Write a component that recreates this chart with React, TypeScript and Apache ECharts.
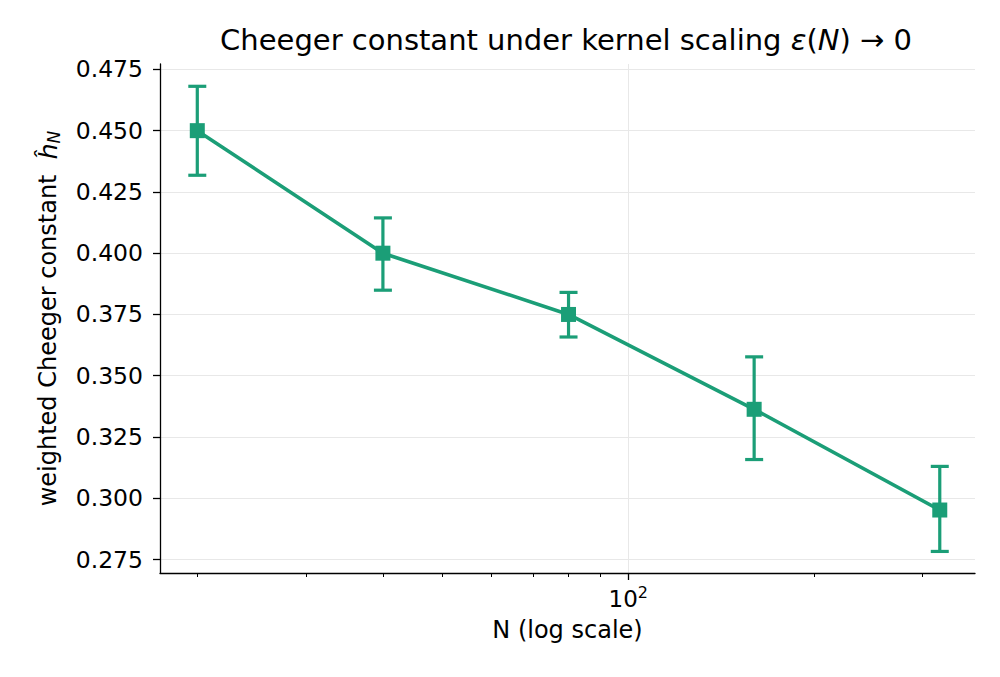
import React, { useEffect, useRef } from "react";
import * as echarts from "echarts";

// ---- data ----
const nValues = [20, 40, 80, 160, 320];
const cheeger = [0.45, 0.4, 0.375, 0.3363, 0.2952];
const errLow = [0.4318, 0.3849, 0.3658, 0.3158, 0.2783];
const errHigh = [0.4681, 0.4144, 0.384, 0.3577, 0.313];
const yTicks = [0.275, 0.3, 0.325, 0.35, 0.375, 0.4, 0.425, 0.45, 0.475];
const xMajorTicks = [100];
const xMinorTicks = [20, 30, 40, 50, 60, 70, 80, 90, 200, 300];

const COLOR = "#1b9e77";
const FONT = "DejaVu Sans";
const GRID_COLOR = "#e8e8e8";

export default function App() {
  const ref = useRef<HTMLDivElement>(null);

  useEffect(() => {
    document.body.style.margin = "0";
    if (!ref.current) return;
    const chart = echarts.init(ref.current, undefined, { renderer: "svg" });

    const xMin = 17.4;
    const xMax = 365;

    const option: any = {
      animation: false,
      backgroundColor: "#ffffff",
      grid: {
        left: 160,
        right: 25,
        top: 64,
        bottom: 104,
        containLabel: false,
        outerBoundsMode: "none",
      },
      graphic: [
        {
          type: "text",
          x: 566,
          y: 40,
          style: {
            text: "{r|Cheeger constant under kernel scaling }{i|ε}{r|(}{i|N}{r|) → 0}",
            align: "center",
            verticalAlign: "middle",
            fill: "#000",
            font: `29px '${FONT}'`,
            rich: {
              r: { fontSize: 29, fontFamily: FONT, fill: "#000" },
              i: { fontSize: 29, fontFamily: FONT, fontStyle: "italic", fill: "#000" },
            },
          },
        },
      ],
      xAxis: [
        {
          type: "log",
          logBase: 10,
          min: xMin,
          max: xMax,
          name: "N (log scale)",
          nameLocation: "middle",
          nameGap: 45,
          nameTextStyle: { fontFamily: FONT, fontSize: 24, color: "#000" },
          axisLine: { show: true, lineStyle: { color: "#000", width: 1.3 } },
          axisTick: {
            show: true,
            length: 7,
            customValues: xMajorTicks,
            lineStyle: { color: "#000", width: 1.3 },
          },
          minorTick: { show: false },
          axisLabel: {
            show: true,
            customValues: xMajorTicks,
            margin: 11,
            formatter: (v: number) => "{b|10}{s|" + Math.round(Math.log10(v)) + "}",
            rich: {
              b: { fontFamily: FONT, fontSize: 23, color: "#000", lineHeight: 26, verticalAlign: "bottom" },
              s: { fontFamily: FONT, fontSize: 16, color: "#000", lineHeight: 26, verticalAlign: "top" },
            },
          },
          splitLine: { show: true, lineStyle: { color: GRID_COLOR, width: 1 } },
        },
        {
          type: "log",
          logBase: 10,
          min: xMin,
          max: xMax,
          position: "bottom",
          axisLine: { show: false },
          axisTick: {
            show: true,
            length: 4,
            customValues: xMinorTicks,
            lineStyle: { color: "#000", width: 1 },
          },
          axisLabel: { show: false },
          splitLine: { show: false },
        },
      ],
      yAxis: {
        type: "value",
        min: 0.2695,
        max: 0.4772,
        name: "{t|weighted Cheeger constant  }{h|ĥ}{s|N}",
        nameLocation: "middle",
        nameGap: 98,
        nameTextStyle: {
          fontFamily: FONT,
          fontSize: 24,
          color: "#000",
          rich: {
            t: { fontFamily: FONT, fontSize: 24, color: "#000" },
            h: { fontFamily: FONT, fontSize: 25, fontStyle: "italic", color: "#000" },
            s: { fontFamily: FONT, fontSize: 17, fontStyle: "italic", color: "#000", padding: [11, 0, 0, 0] },
          },
        },
        axisLine: { show: true, lineStyle: { color: "#000", width: 1.3 } },
        axisTick: {
          show: true,
          length: 7,
          customValues: yTicks,
          lineStyle: { color: "#000", width: 1.3 },
        },
        axisLabel: {
          customValues: yTicks,
          margin: 17,
          fontFamily: FONT,
          fontSize: 23.5,
          color: "#000",
          formatter: (v: number) => v.toFixed(3),
        },
        splitLine: { show: true, lineStyle: { color: GRID_COLOR, width: 1 } },
      },
      series: [
        {
          type: "custom",
          name: "err",
          xAxisIndex: 0,
          yAxisIndex: 0,
          z: 1,
          data: nValues.map((n, i) => [n, errLow[i], errHigh[i]]),
          encode: { x: 0, y: [1, 2] },
          renderItem: (params: any, api: any) => {
            const x = api.value(0);
            const lo = api.coord([x, api.value(1)]);
            const hi = api.coord([x, api.value(2)]);
            const hw = 9;
            const style = { stroke: COLOR, lineWidth: 3.2 };
            return {
              type: "group",
              children: [
                { type: "line", shape: { x1: lo[0], y1: lo[1], x2: hi[0], y2: hi[1] }, style },
                { type: "line", shape: { x1: hi[0] - hw, y1: hi[1], x2: hi[0] + hw, y2: hi[1] }, style },
                { type: "line", shape: { x1: lo[0] - hw, y1: lo[1], x2: lo[0] + hw, y2: lo[1] }, style },
              ],
            };
          },
        },
        {
          type: "line",
          name: "cheeger",
          xAxisIndex: 0,
          yAxisIndex: 0,
          z: 3,
          data: nValues.map((n, i) => [n, cheeger[i]]),
          symbol: "rect",
          symbolSize: 15,
          showAllSymbol: true,
          lineStyle: { color: COLOR, width: 3.6 },
          itemStyle: { color: COLOR },
        },
      ],
    };

    chart.setOption(option);
    return () => chart.dispose();
  }, []);

  return <div ref={ref} style={{ width: 1000, height: 677 }} />;
}
